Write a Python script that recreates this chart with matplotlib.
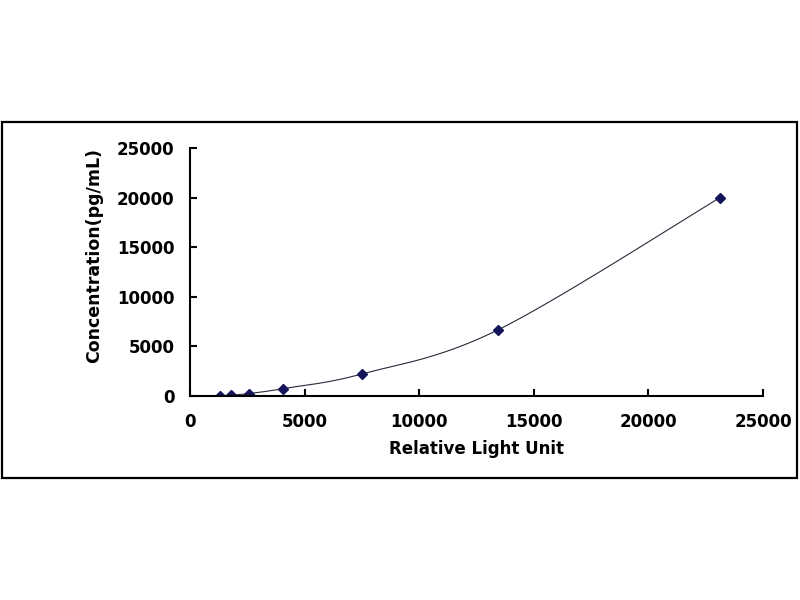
import numpy as np
import matplotlib
matplotlib.use("agg")
import matplotlib.pyplot as plt
from matplotlib.patches import Rectangle

# standard curve points
rlu = [1309, 1789, 2574, 4058, 7504, 13438, 23124]
conc = [0, 82, 247, 741, 2222, 6667, 20000]

x_ticks = [0, 5000, 10000, 15000, 20000, 25000]
y_ticks = [0, 5000, 10000, 15000, 20000, 25000]


def smooth_line(xs, ys, sx, sy, n=40):
    """Excel-like smoothed line (Catmull-Rom bezier) computed in screen-ish units."""
    p = np.column_stack([np.array(xs) / sx, np.array(ys) / sy])
    out = []
    for i in range(len(p) - 1):
        p0 = p[i - 1] if i > 0 else p[i]
        p1, p2 = p[i], p[i + 1]
        p3 = p[i + 2] if i + 2 < len(p) else p[i + 1]
        c1 = p1 + (p2 - p0) / 6
        c2 = p2 - (p3 - p1) / 6
        t = np.linspace(0, 1, n)[:, None]
        seg = ((1 - t) ** 3) * p1 + 3 * ((1 - t) ** 2) * t * c1 + 3 * (1 - t) * t ** 2 * c2 + t ** 3 * p2
        out.append(seg)
    out = np.vstack(out)
    return out[:, 0] * sx, out[:, 1] * sy


plt.rcParams["font.family"] = ["DejaVu Sans"]
fig = plt.figure(figsize=(8, 6), dpi=100)
fig.patch.set_facecolor("white")

fig.patches.append(Rectangle((2 / 800, 1 - 478 / 600), 795 / 800, 356 / 600,
                             transform=fig.transFigure, fill=False,
                             edgecolor="black", linewidth=1.6))

ax = fig.add_axes([190 / 800, 1 - 396 / 600, 573 / 800, 248 / 600])
cx, cy = smooth_line(rlu, conc, 25000 / 573, 25000 / 248)
ax.plot(cx, cy, color="#2a2a3a", linewidth=0.8)
ax.plot(rlu, conc, linestyle="none", marker="D", markersize=5.2,
        color="#14145a")

ax.set_xlim(0, 25000)
ax.set_ylim(0, 25000)
ax.set_xticks(x_ticks)
ax.set_yticks(y_ticks)
ax.spines["top"].set_visible(False)
ax.spines["right"].set_visible(False)
ax.spines["left"].set_linewidth(1.5)
ax.spines["bottom"].set_linewidth(1.5)
ax.tick_params(direction="in", length=5, width=1.5, labelsize=12)
ax.tick_params(axis="x", pad=12)
ax.tick_params(axis="y", pad=11)
for lab in ax.get_xticklabels() + ax.get_yticklabels():
    lab.set_fontweight("bold")

ax.set_xlabel("Relative Light Unit", fontsize=12, fontweight="bold", labelpad=7)
ax.set_ylabel("Concentration(pg/mL)", fontsize=12.5, fontweight="bold")
ax.yaxis.set_label_coords(-0.152, 0.565)

fig.savefig("out.png", dpi=100)
plt.close(fig)
